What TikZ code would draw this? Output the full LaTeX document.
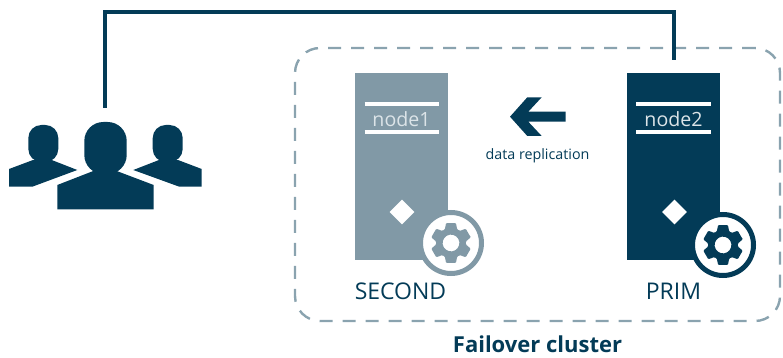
\documentclass[tikz,border=0pt]{standalone}
\usepackage{fontspec}
\usetikzlibrary{shapes.geometric}
\setmainfont{Open Sans}
\definecolor{navy}{HTML}{033B57}
\definecolor{slate}{HTML}{8199A6}
\definecolor{dashc}{HTML}{8AA3AF}
\definecolor{lite}{HTML}{DCE4E8}
\tikzset{
  serverbox/.style={rectangle,minimum width=92.5pt,minimum height=186.5pt,inner sep=0pt,outer sep=0pt},
  ringc/.style={circle,fill=white,draw=#1,line width=5pt,minimum size=61pt,inner sep=0pt},
  barline/.style={draw=white,line width=3.8pt},
  namelab/.style={font=\fontsize{19.6}{22}\selectfont,text=lite,inner sep=0pt},
  rolelab/.style={font=\fontsize{23}{26}\selectfont,text=navy,inner sep=0pt},
  link/.style={draw=navy,line width=4pt},
  gemstone/.style={fill=white,diamond,aspect=1,inner sep=0pt,minimum size=25pt},
  gearpic/.pic={
    \fill[rotate=30,even odd rule,line join=round,rounded corners=0.9pt]
      (14:20.5)
      \foreach \a in {0,60,...,300}{
        -- (\a+24:15) -- (\a+36:15) -- (\a+46:20.5) -- (\a+74:20.5)
      } -- cycle
      (0,0) circle[radius=8.4];
  }
}
\begin{document}
\begin{tikzpicture}[x=1pt,y=-1pt]
\useasboundingbox (0,0) rectangle (783,358);
% cluster
\node[draw=dashc,line width=2.4pt,dash pattern=on 13pt off 10pt,rounded corners=25pt,
  rectangle,minimum width=485pt,minimum height=273pt,inner sep=0pt] (cluster) at (537.5,184.5) {};
\node[font=\fontsize{22}{25}\selectfont\bfseries,text=navy,inner sep=0pt] (cltitle) at (537.5,344) {Failover cluster};
% users
\begin{scope}[navy]
\fill[rounded corners=19pt] (84.3,174) -- (84.3,122) -- (126.7,122) -- (126.7,174) -- cycle;
\fill[rounded corners=13pt] (28.3,162) -- (28.3,125) -- (58.3,125) -- (58.3,162) -- cycle;
\fill[rounded corners=13pt] (152.7,162) -- (152.7,125) -- (182.7,125) -- (182.7,162) -- cycle;
\fill (57.3,185) -- (93.3,171) -- (116.7,171) -- (153.7,185) -- (153.7,209.3) -- (57.3,209.3) -- cycle;
\fill (9,169) -- (33,160) -- (51.7,160) -- (77.3,170) -- (32.3,186.7) -- (9,186.7) -- cycle;
\fill (201.7,169) -- (178,160) -- (159,160) -- (133.3,170) -- (179.3,186.7) -- (201.7,186.7) -- cycle;
\end{scope}
\coordinate (usertop) at (105,108);
\coordinate (prtop) at (674,60);
\coordinate (c1) at (105,12);
\coordinate (c2) at (674,12);
\draw[link] (usertop) -- (c1) -- (c2) -- (prtop);
% server 1
\node[serverbox,fill=slate] (s1) at (401.5,166.7) {};
\coordinate (a1) at (364.5,104); \coordinate (b1) at (439,104);
\coordinate (a2) at (364.5,132); \coordinate (b2) at (439,132);
\draw[barline] (a1) -- (b1); \draw[barline] (a2) -- (b2);
\node[namelab] (n1) at (401.5,119) {node1};
\node[gemstone] (d1) at (402,212) {};
\node[ringc=slate] (r1) at (451,243) {};
\pic[slate] at (r1.center) {gearpic};
\node[rolelab] (l1) at (400.5,291) {SECOND};
% server 2
\node[serverbox,fill=navy] (s2) at (673.5,166.7) {};
\coordinate (a3) at (636,104); \coordinate (b3) at (711,104);
\coordinate (a4) at (636,132); \coordinate (b4) at (711,132);
\draw[barline] (a3) -- (b3); \draw[barline] (a4) -- (b4);
\node[namelab] (n2) at (673.5,119) {node2};
\node[gemstone] (d2) at (674.5,212) {};
\node[ringc=navy] (r2) at (723,245) {};
\pic[navy] at (r2.center) {gearpic};
\node[rolelab] (l2) at (673.5,291) {PRIM};
% arrow
\fill[navy] (510,116.7) -- (527.3,97.3) -- (541.7,97.3) -- (528.3,111.7) -- (565.7,111.7) -- (565.7,121.7) -- (528.3,121.7) -- (541.7,136) -- (527.3,136) -- cycle;
\node[font=\fontsize{14.3}{16}\selectfont,text=navy,inner sep=0pt] (drep) at (537.5,156) {data replication};
\end{tikzpicture}
\end{document}
